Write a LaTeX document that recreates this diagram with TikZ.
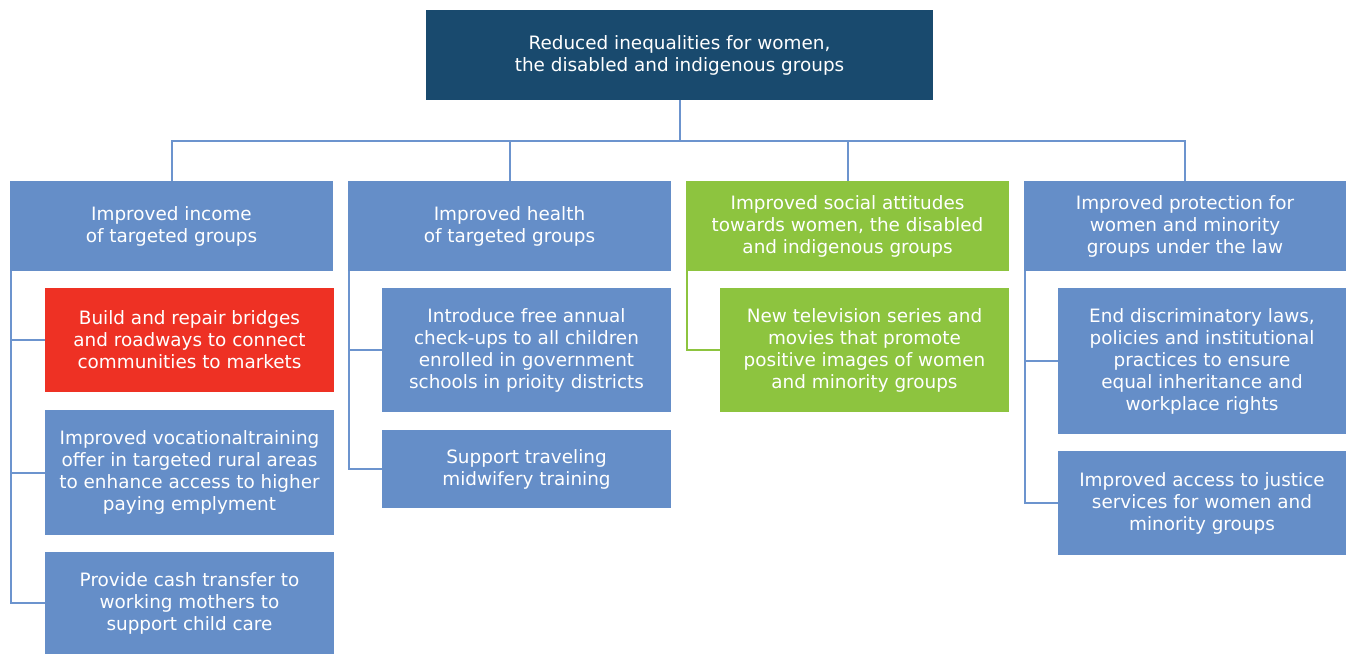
\documentclass[tikz,border=0pt]{standalone}
\usepackage{fontspec}
\setmainfont{DejaVu Sans}
\definecolor{topc}{HTML}{194A6E}
\definecolor{bluec}{HTML}{658EC8}
\definecolor{redc}{HTML}{EE3124}
\definecolor{greenc}{HTML}{8DC43F}
\definecolor{linec}{HTML}{6C94CE}
\tikzset{
  bx/.style={inner sep=0pt, draw=none, text=white, align=center,
    font=\fontsize{13.8}{16.5}\selectfont},
  ln/.style={draw=linec, line width=1.5pt},
  lng/.style={draw=greenc, line width=1.5pt},
}
\newcommand\boxnode[7]{\node[bx,fill=#2,minimum width={(#5-#3)*0.75pt},minimum height={(#6-#4)*0.75pt}] (#1) at ({(#3+#5)/2},{(#4+#6)/2}) {#7};}
\begin{document}
\begin{tikzpicture}[x=0.75pt,y=-0.75pt]
\useasboundingbox (0,0) rectangle (1346,654);
% top
\boxnode{top}{topc}{426}{10}{933}{100}{Reduced inequalities for women,\\the disabled and indigenous groups}
% level 1
\boxnode{b1}{bluec}{10}{181}{333}{271}{Improved income\\of targeted groups}
\boxnode{b2}{bluec}{348}{181}{671}{271}{Improved health\\of targeted groups}
\boxnode{b3}{greenc}{686}{181}{1009}{271}{Improved social attitudes\\towards women, the disabled\\and indigenous groups}
\boxnode{b4}{bluec}{1024}{181}{1346}{271}{Improved protection for\\women and minority\\groups under the law}
% level 2, column 1
\boxnode{s11}{redc}{45}{288}{334}{392}{Build and repair bridges\\and roadways to connect\\communities to markets}
\boxnode{s12}{bluec}{45}{410}{334}{535}{Improved vocationaltraining\\offer in targeted rural areas\\to enhance access to higher\\paying emplyment}
\boxnode{s13}{bluec}{45}{552}{334}{654}{Provide cash transfer to\\working mothers to\\support child care}
% column 2
\boxnode{s21}{bluec}{382}{288}{671}{412}{Introduce free annual\\check-ups to all children\\enrolled in government\\schools in prioity districts}
\boxnode{s22}{bluec}{382}{430}{671}{508}{Support traveling\\midwifery training}
% column 3
\boxnode{s31}{greenc}{720}{288}{1009}{412}{New television series and\\movies that promote\\positive images of women\\and minority groups}
% column 4
\boxnode{s41}{bluec}{1058}{288}{1346}{434}{End discriminatory laws,\\policies and institutional\\practices to ensure\\equal inheritance and\\workplace rights}
\boxnode{s42}{bluec}{1058}{451}{1346}{555}{Improved access to justice\\services for women and\\minority groups}
% connectors top
\coordinate (hub) at (679.5,141);
\draw[ln] (top.south) -- (hub);
\draw[ln] (b1.north) |- (hub) -| (b4.north);
\draw[ln] (b2.north) -- (b2.north |- hub);
\draw[ln] (b3.north) -- (b3.north |- hub);
% connectors sub
\draw[ln] ([xshift=0.75pt]b1.south west) |- (s11.west);
\draw[ln] ([xshift=0.75pt]b1.south west) |- (s12.west);
\draw[ln] ([xshift=0.75pt]b1.south west) |- (s13.west);
\draw[ln] ([xshift=0.75pt]b2.south west) |- (s21.west);
\draw[ln] ([xshift=0.75pt]b2.south west) |- (s22.west);
\draw[lng] ([xshift=0.75pt]b3.south west) |- (s31.west);
\draw[ln] ([xshift=0.75pt]b4.south west) |- (s41.west);
\draw[ln] ([xshift=0.75pt]b4.south west) |- (s42.west);
\end{tikzpicture}
\end{document}
